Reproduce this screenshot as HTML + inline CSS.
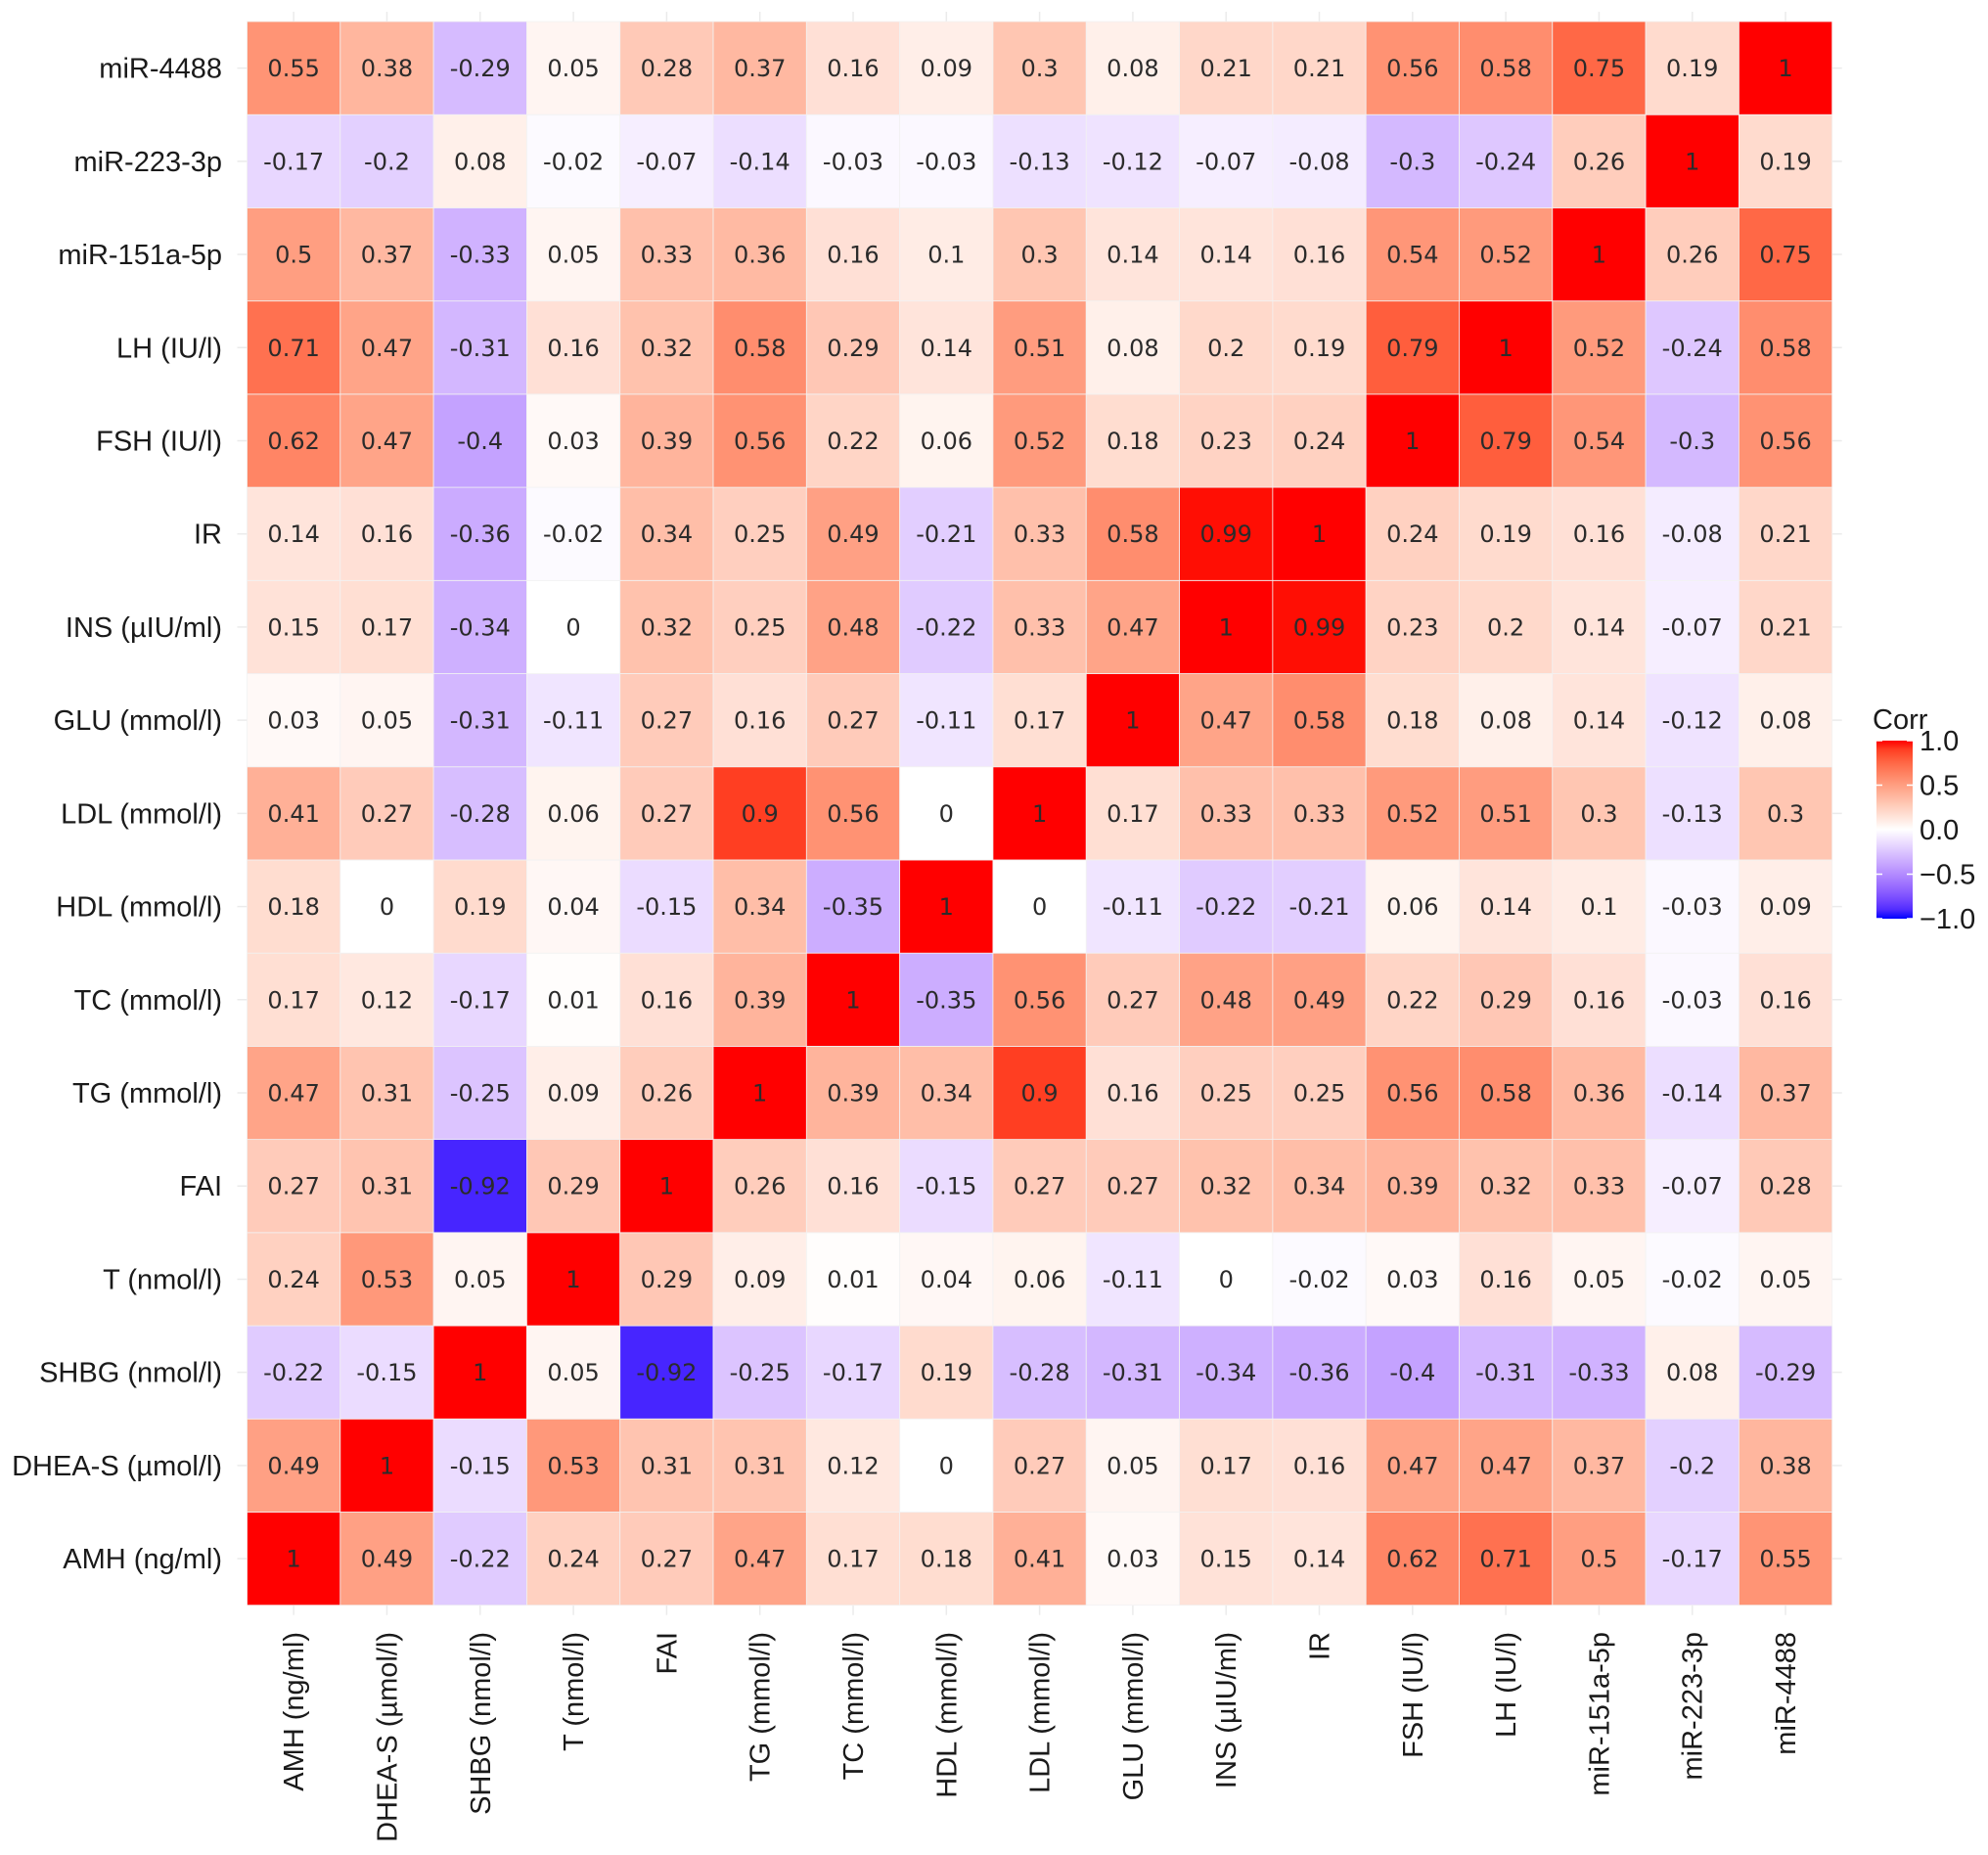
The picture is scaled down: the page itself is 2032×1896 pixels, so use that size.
<!DOCTYPE html>
<html><head><meta charset="utf-8">
<style>
html,body{margin:0;padding:0;background:#fff;}
svg{display:block;}
.lab{font-family:"Liberation Sans",Arial,sans-serif;font-size:29px;fill:#1a1a1a;}
.val{font-family:"DejaVu Sans","Liberation Sans",sans-serif;font-size:24px;fill:#2b2b2b;}
</style></head>
<body>
<svg id="chart" width="2032" height="1896" viewBox="0 0 2032 1896" xmlns="http://www.w3.org/2000/svg">
<g id="grid"></g>
<g id="cells"></g>
<g id="ylabels"></g>
<g id="xlabels"></g>
<g id="legend"></g>
</svg>
<script>
const variables = ["AMH (ng/ml)","DHEA-S (\u00b5mol/l)","SHBG (nmol/l)","T (nmol/l)","FAI","TG (mmol/l)","TC (mmol/l)","HDL (mmol/l)","LDL (mmol/l)","GLU (mmol/l)","INS (\u00b5IU/ml)","IR","FSH (IU/l)","LH (IU/l)","miR-151a-5p","miR-223-3p","miR-4488"];
const rowAMH   = [1,0.49,-0.22,0.24,0.27,0.47,0.17,0.18,0.41,0.03,0.15,0.14,0.62,0.71,0.5,-0.17,0.55];
const rowDHEAS = [0.49,1,-0.15,0.53,0.31,0.31,0.12,0,0.27,0.05,0.17,0.16,0.47,0.47,0.37,-0.2,0.38];
const rowSHBG  = [-0.22,-0.15,1,0.05,-0.92,-0.25,-0.17,0.19,-0.28,-0.31,-0.34,-0.36,-0.4,-0.31,-0.33,0.08,-0.29];
const rowT     = [0.24,0.53,0.05,1,0.29,0.09,0.01,0.04,0.06,-0.11,0,-0.02,0.03,0.16,0.05,-0.02,0.05];
const rowFAI   = [0.27,0.31,-0.92,0.29,1,0.26,0.16,-0.15,0.27,0.27,0.32,0.34,0.39,0.32,0.33,-0.07,0.28];
const rowTG    = [0.47,0.31,-0.25,0.09,0.26,1,0.39,0.34,0.9,0.16,0.25,0.25,0.56,0.58,0.36,-0.14,0.37];
const rowTC    = [0.17,0.12,-0.17,0.01,0.16,0.39,1,-0.35,0.56,0.27,0.48,0.49,0.22,0.29,0.16,-0.03,0.16];
const rowHDL   = [0.18,0,0.19,0.04,-0.15,0.34,-0.35,1,0,-0.11,-0.22,-0.21,0.06,0.14,0.1,-0.03,0.09];
const rowLDL   = [0.41,0.27,-0.28,0.06,0.27,0.9,0.56,0,1,0.17,0.33,0.33,0.52,0.51,0.3,-0.13,0.3];
const rowGLU   = [0.03,0.05,-0.31,-0.11,0.27,0.16,0.27,-0.11,0.17,1,0.47,0.58,0.18,0.08,0.14,-0.12,0.08];
const rowINS   = [0.15,0.17,-0.34,0,0.32,0.25,0.48,-0.22,0.33,0.47,1,0.99,0.23,0.2,0.14,-0.07,0.21];
const rowIR    = [0.14,0.16,-0.36,-0.02,0.34,0.25,0.49,-0.21,0.33,0.58,0.99,1,0.24,0.19,0.16,-0.08,0.21];
const rowFSH   = [0.62,0.47,-0.4,0.03,0.39,0.56,0.22,0.06,0.52,0.18,0.23,0.24,1,0.79,0.54,-0.3,0.56];
const rowLH    = [0.71,0.47,-0.31,0.16,0.32,0.58,0.29,0.14,0.51,0.08,0.2,0.19,0.79,1,0.52,-0.24,0.58];
const row151   = [0.5,0.37,-0.33,0.05,0.33,0.36,0.16,0.1,0.3,0.14,0.14,0.16,0.54,0.52,1,0.26,0.75];
const row223   = [-0.17,-0.2,0.08,-0.02,-0.07,-0.14,-0.03,-0.03,-0.13,-0.12,-0.07,-0.08,-0.3,-0.24,0.26,1,0.19];
const row4488  = [0.55,0.38,-0.29,0.05,0.28,0.37,0.16,0.09,0.3,0.08,0.21,0.21,0.56,0.58,0.75,0.19,1];
const matrixRows = [rowAMH,rowDHEAS,rowSHBG,rowT,rowFAI,rowTG,rowTC,rowHDL,rowLDL,rowGLU,rowINS,rowIR,rowFSH,rowLH,row151,row223,row4488];
const legendTicks = [1.0,0.5,0.0,-0.5,-1.0];
const legendTickLabels = ["1.0","0.5","0.0","\u22120.5","\u22121.0"];

const NS="http://www.w3.org/2000/svg";
const L=252.5, R=1872.7, T=22, B=1640.7;
const n=variables.length, cw=(R-L)/n, ch=(B-T)/n;
const xPos=i=>L+i*cw;            // column index -> left
const yPos=i=>B-(i+1)*ch;        // row index (0 = bottom) -> top

function mk(tag,attrs,parent){const e=document.createElementNS(NS,tag);for(const k in attrs)e.setAttribute(k,attrs[k]);parent.appendChild(e);return e;}
// Lab interpolation like ggplot scale_fill_gradient2
function s2l(c){c/=255;return c<=0.04045?c/12.92:Math.pow((c+0.055)/1.055,2.4);}
function l2s(c){c=c<=0.0031308?12.92*c:1.055*Math.pow(c,1/2.4)-0.055;return Math.max(0,Math.min(255,Math.round(c*255)));}
function toLab(rgb){const r=s2l(rgb[0]),g=s2l(rgb[1]),b=s2l(rgb[2]);
 let x=(0.4124*r+0.3576*g+0.1805*b)/0.95047,y=0.2126*r+0.7152*g+0.0722*b,z=(0.0193*r+0.1192*g+0.9505*b)/1.08883;
 const f=t=>t>0.008856?Math.cbrt(t):7.787*t+16/116;x=f(x);y=f(y);z=f(z);return[116*y-16,500*(x-y),200*(y-z)];}
function fromLab(l){let y=(l[0]+16)/116,x=l[1]/500+y,z=y-l[2]/200;
 const f=t=>t*t*t>0.008856?t*t*t:(t-16/116)/7.787;x=f(x)*0.95047;y=f(y);z=f(z)*1.08883;
 const r=3.2406*x-1.5372*y-0.4986*z,g=-0.9689*x+1.8758*y+0.0415*z,b=0.0557*x-0.2040*y+1.0570*z;return[l2s(r),l2s(g),l2s(b)];}
const labR=toLab([255,0,0]),labW=toLab([255,255,255]),labB=toLab([0,0,255]);
function color(v){const t=Math.min(1,Math.abs(v));const e=v>=0?labR:labB;
 const c=fromLab([0,1,2].map(k=>labW[k]+(e[k]-labW[k])*t));return`rgb(${c[0]},${c[1]},${c[2]})`;}
function fmt(v){return String(Math.round(v*100)/100);}

const grid=document.getElementById('grid');
for(let i=0;i<n;i++){
 const gx=mk('line',{x1:xPos(i)+cw/2,x2:xPos(i)+cw/2,y1:T-10,y2:B+10,stroke:'#ebebeb','stroke-width':1.5},grid);
 
 
 const gy=mk('line',{x1:L-10,x2:R+10,y1:yPos(i)+ch/2,y2:yPos(i)+ch/2,stroke:'#ebebeb','stroke-width':1.5},grid);
 
 
}
const cells=document.getElementById('cells');
matrixRows.forEach((row,ri)=>{
 row.forEach((v,ci)=>{
  const r=mk('rect',{x:xPos(ci),y:yPos(ri),width:cw,height:ch,fill:color(v),stroke:'#f2f2f2','stroke-width':0.8},cells);
  
  
  const t=mk('text',{x:xPos(ci)+cw/2,y:yPos(ri)+ch/2+8.5,'text-anchor':'middle',class:'val'},cells);
  
  
  t.textContent=fmt(v);
 });
});
const yl=document.getElementById('ylabels'), xl=document.getElementById('xlabels');
variables.forEach((name,i)=>{
 const t=mk('text',{x:227,y:yPos(i)+ch/2+10,'text-anchor':'end',class:'lab'},yl);
 
 
 t.textContent=name;
 const cx=xPos(i)+cw/2+10;
 const u=mk('text',{x:0,y:0,'text-anchor':'end',class:'lab',transform:`translate(${cx},1668) rotate(-90)`},xl);
 
 
 u.textContent=name;
});
// legend
const lg=document.getElementById('legend');
const bx=1918,bw=37,bt=757,bb=939;
const legY=v=>bt+(1-v)/2*(bb-bt);
const defs=mk('defs',{},lg);
const grad=mk('linearGradient',{id:'lgGrad',x1:0,y1:0,x2:0,y2:1},defs);
for(let k=0;k<=20;k++){const v=1-k/10;mk('stop',{offset:(k/20),'stop-color':color(v)},grad);}
const bar=mk('rect',{x:bx,y:bt,width:bw,height:bb-bt,fill:'url(#lgGrad)'},lg);


const title=mk('text',{x:1914,y:745,class:'lab'},lg);


title.textContent='Corr';
legendTicks.forEach((v,k)=>{
 mk('line',{x1:bx,x2:bx+6,y1:legY(v),y2:legY(v),stroke:'#fff','stroke-width':1.5},lg);
 mk('line',{x1:bx+bw-6,x2:bx+bw,y1:legY(v),y2:legY(v),stroke:'#fff','stroke-width':1.5},lg);
 const t=mk('text',{x:1962,y:legY(v)+10,class:'lab'},lg);
 
 
 t.textContent=legendTickLabels[k];
});
</script>
</body></html>
